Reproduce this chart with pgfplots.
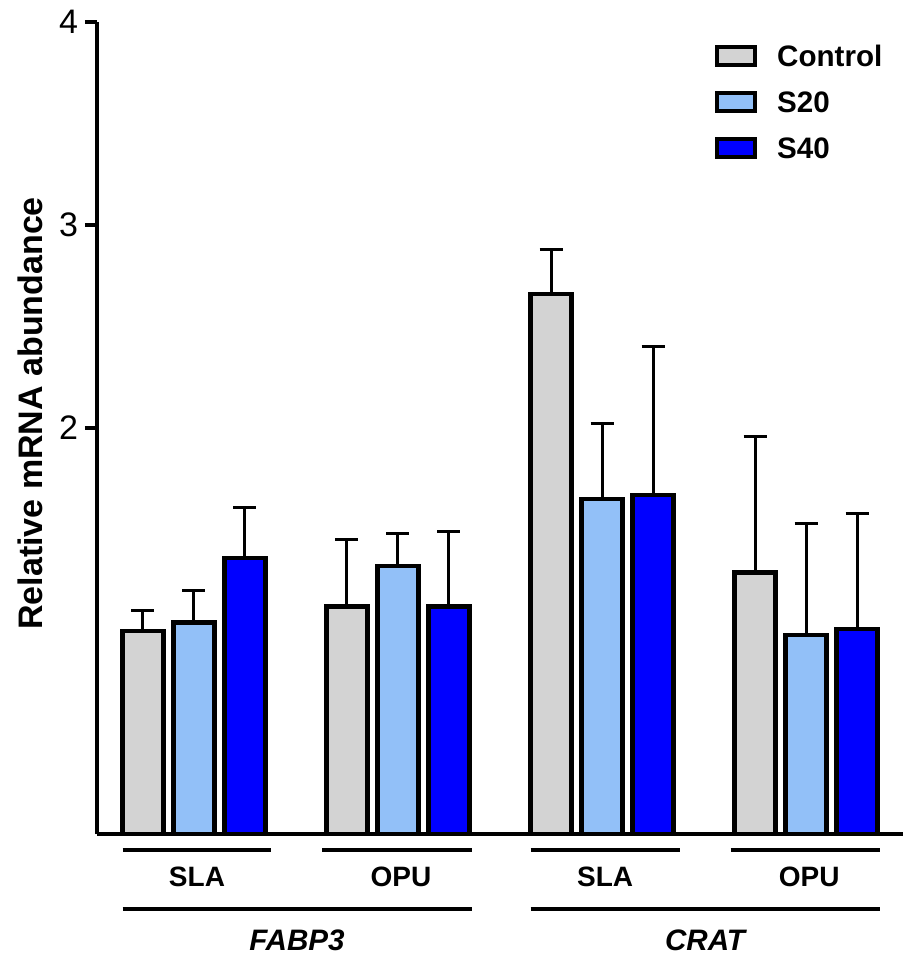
\documentclass[border=0pt]{standalone}
\usepackage{pgfplots}
\pgfplotsset{compat=1.18}
\usepackage{fontspec}
\setmainfont{Liberation Sans}

\definecolor{ctrlgray}{RGB}{211,211,211}
\definecolor{sTwenty}{RGB}{146,192,248}
\definecolor{sForty}{RGB}{0,0,255}

% bars at 0,1,2 / 4,5,6 / 8,9,10 / 12,13,14 ; err = upper SEM
\pgfplotstableread{
x  y     err
0  1.00  0.10
4  1.12  0.33
8  2.66  0.22
12 1.29  0.67
}\ctrl
\pgfplotstableread{
x  y     err
1  1.04  0.16
5  1.32  0.16
9  1.65  0.37
13 0.98  0.55
}\stwenty
\pgfplotstableread{
x  y     err
2  1.36  0.25
6  1.12  0.37
10 1.67  0.73
14 1.01  0.57
}\sforty

\begin{document}
\begin{tikzpicture}
\path[use as bounding box] (-48.5pt,-60.5pt) rectangle (403pt,417pt);
\begin{axis}[
    scale only axis,
    width=403pt, height=406pt,
    xmin=-0.9, xmax=14.9,
    ymin=0, ymax=4,
    axis x line=bottom, axis y line=left,
    axis line style={-, line width=2.4pt},
    xtick=\empty,
    ytick={2,3,4},
    tick align=outside,
    major tick length=6pt,
    ytick style={line width=2.4pt, black},
    /pgf/number format/assume math mode=true,
    yticklabel style={font=\fontsize{17}{20}\selectfont},
    ylabel={Relative mRNA abundance},
    every axis y label/.style={at={(axis description cs:-0.083,0.518)}, rotate=90, anchor=center,
        font=\bfseries\fontsize{17}{20}\selectfont},
    ybar, bar shift=0pt, bar width=0.8,
    every axis plot/.append style={draw=black, line width=2.4pt},
    error bars/y dir=plus, error bars/y explicit,
    error bars/error bar style={line width=1.5pt, black},
    error bars/error mark options={rotate=90, mark size=5.75pt, line width=1.5pt, black},
    clip=false,
    legend style={at={(0.766,0.972)}, anchor=north west, draw=none, fill=none,
        inner sep=0pt, row sep=12pt, column sep=0pt,
        font=\bfseries\fontsize{14.8}{17}\selectfont,
        nodes={inner sep=0pt, text height=10.6pt, text depth=0pt}},
    legend cell align=left,
    legend image code/.code={\draw[#1, line width=2pt] (0pt,-4.5pt) rectangle (19pt,4.5pt);
        \path (29pt,0pt);},
]
\addplot[fill=ctrlgray] table[x=x, y=y, y error=err] {\ctrl};
\addlegendentry{Control}
\addplot[fill=sTwenty] table[x=x, y=y, y error=err] {\stwenty};
\addlegendentry{S20}
\addplot[fill=sForty] table[x=x, y=y, y error=err] {\sforty};
\addlegendentry{S40}

% group annotations below the axis
\draw[line width=2.2pt] (axis cs:-0.4,-0.079) -- (axis cs:2.52,-0.079);
\draw[line width=2.2pt] (axis cs:3.52,-0.079) -- (axis cs:6.45,-0.079);
\draw[line width=2.2pt] (axis cs:7.6,-0.079) -- (axis cs:10.52,-0.079);
\draw[line width=2.2pt] (axis cs:11.52,-0.079) -- (axis cs:14.45,-0.079);
\node[font=\bfseries\fontsize{14}{16}\selectfont] at (axis cs:1.06,-0.21) {SLA};
\node[font=\bfseries\fontsize{14}{16}\selectfont] at (axis cs:5.06,-0.21) {OPU};
\node[font=\bfseries\fontsize{14}{16}\selectfont] at (axis cs:9.06,-0.21) {SLA};
\node[font=\bfseries\fontsize{14}{16}\selectfont] at (axis cs:13.06,-0.21) {OPU};
\draw[line width=2.2pt] (axis cs:-0.4,-0.37) -- (axis cs:6.45,-0.37);
\draw[line width=2.2pt] (axis cs:7.6,-0.37) -- (axis cs:14.45,-0.37);
\node[font=\bfseries\itshape\fontsize{14.8}{17}\selectfont] at (axis cs:3.02,-0.522) {FABP3};
\node[font=\bfseries\itshape\fontsize{14.8}{17}\selectfont] at (axis cs:11.02,-0.522) {CRAT};
\end{axis}
\end{tikzpicture}
\end{document}
